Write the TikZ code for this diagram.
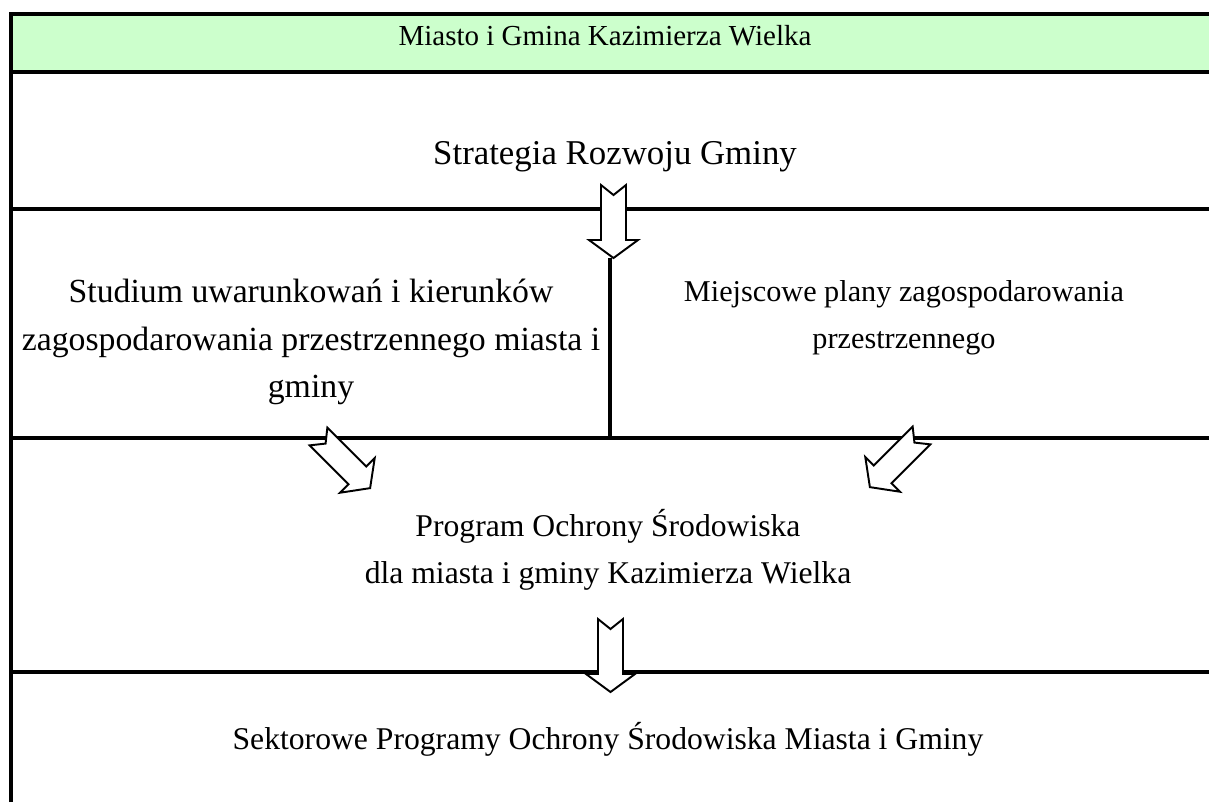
\documentclass[tikz,border=0pt]{standalone}
\usepackage{fontspec}
\setmainfont{Liberation Serif}
\usepackage{tikz}

\tikzset{
	rule/.style={line width=1.2pt},
	txt/.style={font=\fontsize{#1}{13.5}\selectfont, align=center, inner sep=0pt},
	txt/.default=8.25,
	blockarrow/.pic={
		\draw[line width=0.55pt, fill=white] (-12.5,0) -- (0,10) -- (12.5,0) -- (12.5,55) -- (24.5,55)
			-- (0,73) -- (-24.5,55) -- (-12.5,55) -- cycle;
	}
}

\begin{document}
\begin{tikzpicture}[x=0.01cm, y=-0.01cm]
	\useasboundingbox (0,0) rectangle (1209,802);
	\fill[green!20] (11,14) rectangle (1209,72);

	\coordinate (tl) at (11,14);
	\coordinate (tr) at (1209,14);
	\coordinate (bl) at (11,802);
	\coordinate (h1l) at (11,72);
	\coordinate (h1r) at (1209,72);
	\coordinate (h2l) at (11,209);
	\coordinate (h2r) at (1209,209);
	\coordinate (h3l) at (11,438);
	\coordinate (h3r) at (1209,438);
	\coordinate (h4l) at (11,672);
	\coordinate (h4r) at (1209,672);
	\coordinate (vt) at (610,258);
	\coordinate (vb) at (610,438);

	\draw[rule] (bl) -- (tl) -- (tr);
	\draw[rule] (h1l) -- (h1r);
	\draw[rule] (h2l) -- (h2r);
	\draw[rule] (h3l) -- (h3r);
	\draw[rule] (h4l) -- (h4r);
	\draw[rule] (vt) -- (vb);

	\node[txt, anchor=base] (gmina) at (605,45) {Miasto i Gmina Kazimierza Wielka};
	\node[txt=9.9, anchor=base] (strategia) at (615,164) {Strategia Rozwoju Gminy};
	\node[txt=9.6] (studium) at (311,342) {Studium uwarunkowań i kierunków\\zagospodarowania przestrzennego miasta i\\gminy};
	\node[txt=8.6] (plany) at (904,318) {Miejscowe plany zagospodarowania\\przestrzennego};
	\node[txt=9] (program) at (608,550) {Program Ochrony Środowiska\\dla miasta i gminy Kazimierza Wielka};
	\node[txt=9, anchor=base] (sektorowe) at (608,749) {Sektorowe Programy Ochrony Środowiska Miasta i Gminy};

	\pic at (613.5,185) {blockarrow};
	\pic[rotate=45] at (318.5,436.5) {blockarrow};
	\pic[rotate=-45] at (921.5,435.5) {blockarrow};
	\pic at (610.5,619) {blockarrow};
\end{tikzpicture}
\end{document}
